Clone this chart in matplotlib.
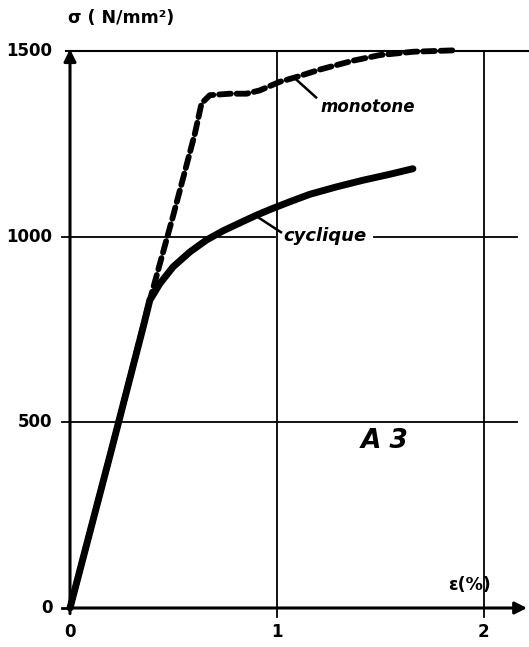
import matplotlib
matplotlib.use('Agg')  # no GUI window
import matplotlib.pyplot as plt

# strain (%) and stress (N/mm2) for the two loadings of steel A3
mono_eps = [0.0, 0.20, 0.386, 0.50, 0.604, 0.636, 0.676, 0.773, 0.853, 0.918,
            1.014, 1.095, 1.208, 1.369, 1.498, 1.66, 1.868]
mono_sig = [0, 425, 829, 1059, 1278, 1359, 1381, 1385, 1385, 1394,
            1417, 1430, 1450, 1474, 1489, 1498, 1502]

cyc_eps = [0.0, 0.20, 0.354, 0.386, 0.435, 0.499, 0.580, 0.660, 0.741, 0.821,
           0.902, 0.98, 1.063, 1.159, 1.288, 1.417, 1.546, 1.658]
cyc_sig = [0, 425, 757, 829, 874, 919, 959, 991, 1016, 1037,
           1058, 1076, 1094, 1114, 1134, 1152, 1168, 1183]

y_ticks = [0, 500, 1000, 1500]
x_ticks = [0, 1, 2]

fig = plt.figure(figsize=(5.29, 6.47), dpi=100)
ax = fig.add_axes([70 / 529, 39 / 647, 455 / 529, 557 / 647])
ax.set_xlim(0, 2.2)
ax.set_ylim(0, 1500)
ax.axis('off')

font = dict(family='DejaVu Sans', fontweight='bold', color='black')
grid = dict(color='black', lw=1.3, clip_on=False)

# grid lines
ax.plot([-0.04, 2.16], [500, 500], **grid)
ax.plot([-0.04, 0.99], [1000, 1000], **grid)
ax.plot([1.47, 2.16], [1000, 1000], **grid)
ax.plot([-0.02, 2.22], [1500, 1500], color='black', lw=1.5, clip_on=False)
for xv in [1, 2]:
    ax.plot([xv, xv], [-25, 1500], **grid)
ax.plot([-0.04, 0], [0, 0], color='black', lw=2, clip_on=False)

# axes with arrows
ax.annotate('', xy=(0, 1505), xytext=(0, -15), xycoords='data',
            arrowprops=dict(arrowstyle='-|>', color='black', lw=2.2,
                            mutation_scale=18, shrinkA=0, shrinkB=0),
            annotation_clip=False)
ax.annotate('', xy=(2.21, 0), xytext=(-0.01, 0), xycoords='data',
            arrowprops=dict(arrowstyle='-|>', color='black', lw=2.2,
                            mutation_scale=18, shrinkA=0, shrinkB=0),
            annotation_clip=False)

# curves
ax.plot(mono_eps, mono_sig, color='black', lw=4.2, ls=(0, (2.0, 1.0)),
        solid_capstyle='round', dash_capstyle='round', dash_joinstyle='round',
        clip_on=False)
ax.plot(cyc_eps, cyc_sig, color='black', lw=5, solid_capstyle='round',
        solid_joinstyle='round', clip_on=False)

# tick labels
for yv in y_ticks:
    ax.text(-0.085, yv, str(yv), ha='right', va='center', fontsize=12, **font)
for xv in x_ticks:
    ax.text(xv, -65, str(xv), ha='center', va='center', fontsize=12, **font)

# axis titles
ax.text(-0.01, 1590, 'σ ( N/mm²)', ha='left', va='center', fontsize=12.5, **font)
ax.text(1.93, 62, 'ε(%)', ha='center', va='center', fontsize=12.5, **font)

# curve labels with leaders
ax.text(1.21, 1349, 'monotone', ha='left', va='center', fontsize=12,
        fontstyle='italic', **font)
ax.plot([1.09, 1.19], [1425, 1375], color='black', lw=1.8)
ax.text(1.03, 1002, 'cyclique', ha='left', va='center', fontsize=13,
        fontstyle='italic', **font)
ax.plot([0.91, 1.02], [1052, 1012], color='black', lw=1.8)

ax.text(1.52, 450, 'A 3', ha='center', va='center', fontsize=19,
        fontstyle='italic', **font)

fig.savefig('out.png', dpi=100)
